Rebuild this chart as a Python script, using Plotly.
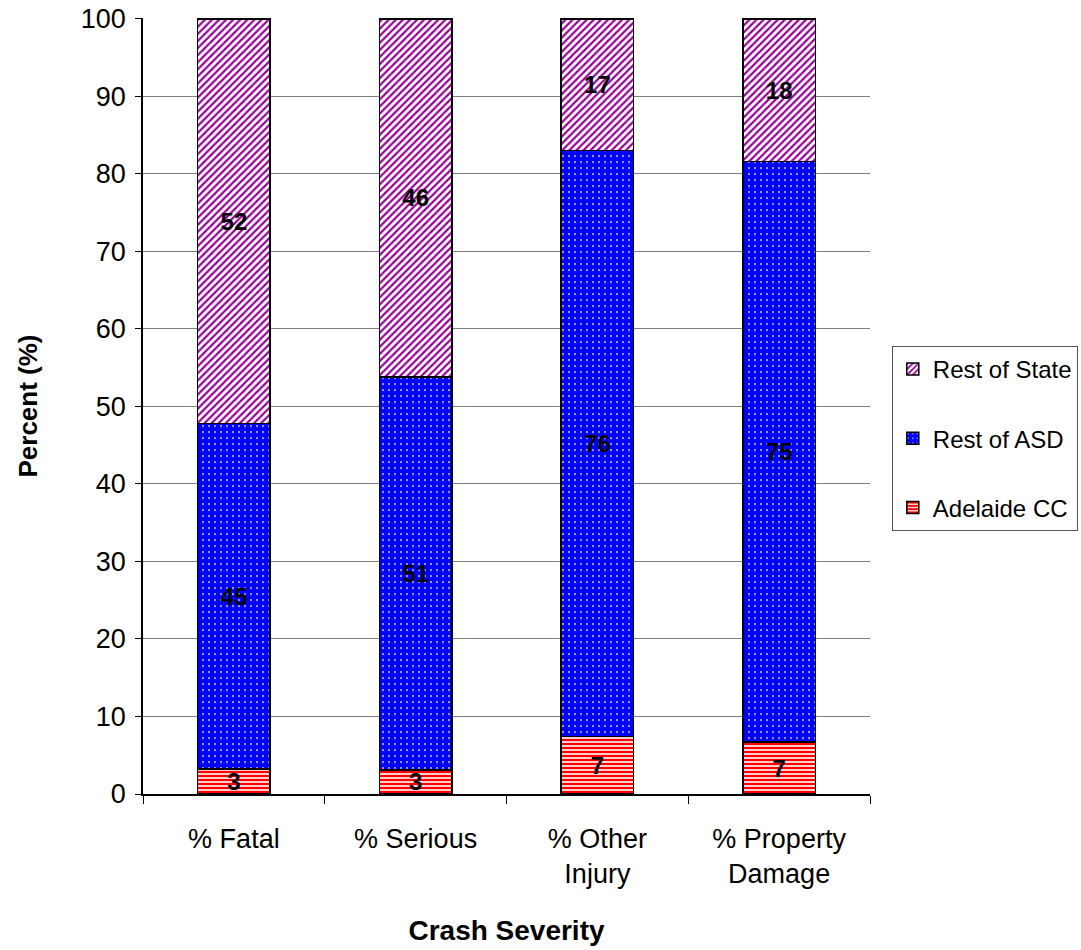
import plotly.graph_objects as go

categories = ["% Fatal", "% Serious", "% Other<br>Injury", "% Property<br>Damage"]
adelaide_cc = [3.2, 3.1, 7.4, 6.7]
rest_of_asd = [44.6, 50.7, 75.6, 74.9]
rest_of_state = [52.2, 46.2, 17.0, 18.4]
y_ticks = [0, 10, 20, 30, 40, 50, 60, 70, 80, 90, 100]

FONT = "Liberation Sans, Arial, sans-serif"

series = [
    ("Adelaide CC", adelaide_cc, "#ff0000", "-", 4, 0.6, 3),
    ("Rest of ASD", rest_of_asd, "#0000ff", ".", 6, 0.85, 2),
    ("Rest of State", rest_of_state, "#990099", "/", 5, 0.45, 1),
]

fig = go.Figure()
for i, (name, vals, col, shape, size, sol, rank) in enumerate(series):
    fig.add_trace(go.Bar(
        name=name, x=categories, y=vals,
        legendgroup=f"g{i}", legendrank=rank,
        marker=dict(
            color=col,
            line=dict(color="black", width=1.5),
            pattern=dict(shape=shape, fgcolor=col, bgcolor="white",
                         size=size, solidity=sol, fillmode="replace"),
        ),
        texttemplate="<b>%{y:.0f}</b>",
        textposition="inside", insidetextanchor="middle", textangle=0,
        textfont=dict(family=FONT, size=24, color="black"),
        constraintext="none",
        hoverinfo="skip",
    ))

fig.update_layout(
    barmode="stack", bargap=0.6,
    width=1081, height=950,
    margin=dict(l=143, r=211, t=18, b=156, autoexpand=False),
    paper_bgcolor="white", plot_bgcolor="white",
    font=dict(family=FONT, size=26, color="black"),
    showlegend=True,
    legend=dict(
        x=1.03, xanchor="left", y=0.5773, yanchor="top",
        traceorder="grouped", tracegroupgap=35,
        bordercolor="#555555", borderwidth=1,
        font=dict(family=FONT, size=24, color="black"),
        itemwidth=30,
    ),
    uniformtext=dict(mode=False),
)
fig.update_yaxes(
    range=[0, 100.1], tickvals=y_ticks, showgrid=True, gridcolor="#808080", gridwidth=1,
    showline=True, linecolor="black", linewidth=1.5,
    ticks="outside", ticklen=6, tickcolor="black", ticklabelstandoff=4,
    ticklabeloverflow="allow",
    tickfont=dict(family=FONT, size=27),
    title=dict(text="<b>Percent (%)</b>", font=dict(family=FONT, size=26), standoff=36),
    zeroline=False, automargin=False,
)
fig.update_xaxes(
    showline=True, linecolor="black", linewidth=1.5,
    ticks="outside", tickson="boundaries", ticklen=8, tickcolor="black",
    ticklabelstandoff=20,
    tickfont=dict(family=FONT, size=27),
    title=dict(text="<b>Crash Severity</b>", font=dict(family=FONT, size=28), standoff=32),
    automargin=False,
)

fig.write_html("out.html", config={"displayModeBar": False},
               post_script="document.body.style.margin='0';document.body.style.overflow='hidden';")
